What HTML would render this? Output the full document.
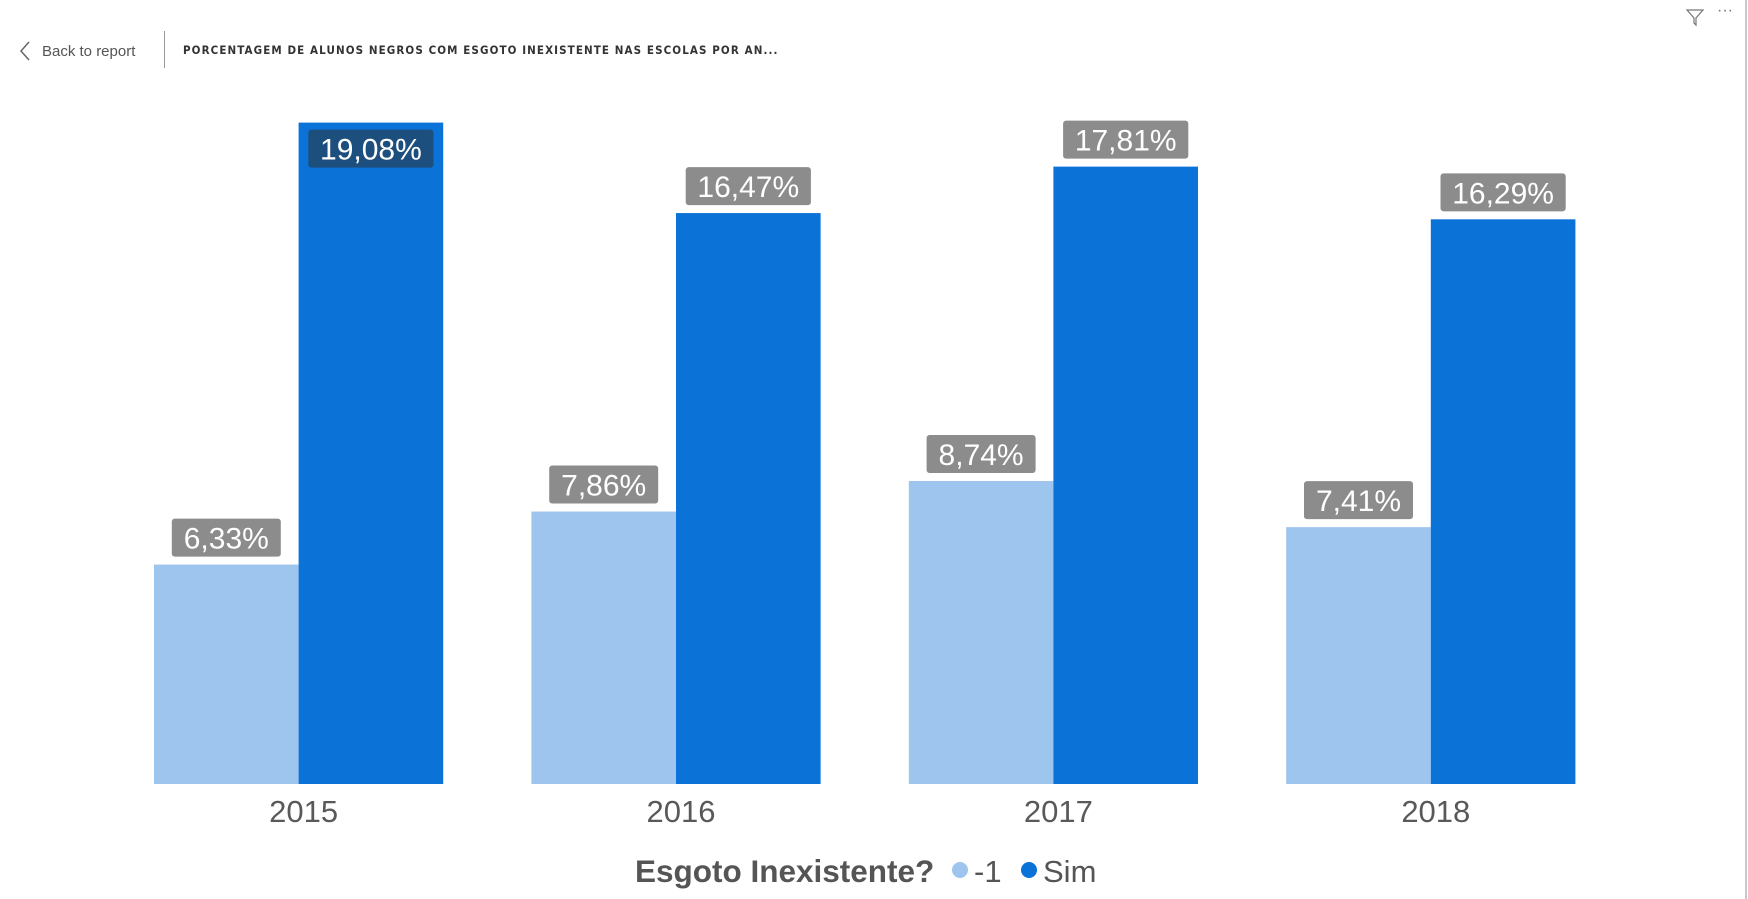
<!DOCTYPE html>
<html><head><meta charset="utf-8"><style>
body{margin:0;width:1748px;height:899px;background:#fff;position:relative;overflow:hidden;font-family:"Liberation Sans",sans-serif}
.abs{position:absolute}
</style></head><body>
<div class="abs" style="left:18px;top:40px;font-size:15px;color:#555;display:flex;align-items:center">
<svg width="14" height="22" style="margin-right:10px"><polyline points="11,2 3,11 11,20" fill="none" stroke="#666" stroke-width="1.5"/></svg>Back to report</div>
<div class="abs" style="left:164px;top:31px;width:1px;height:37px;background:#999"></div>
<div class="abs" style="left:183px;top:43px;font-size:11.5px;font-weight:bold;letter-spacing:1.1px;color:#333;font-family:'DejaVu Sans Condensed','Liberation Sans',sans-serif;white-space:nowrap">PORCENTAGEM DE ALUNOS NEGROS COM ESGOTO INEXISTENTE NAS ESCOLAS POR AN...</div>
<svg class="abs" style="left:1685px;top:7px" width="20" height="20"><path d="M2 3 H18 L11 11 V18 L9 16 V11 Z" fill="none" stroke="#777" stroke-width="1.2"/></svg>
<div class="abs" style="left:1717px;top:2px;font-size:16px;color:#777">···</div>
<div class="abs" style="left:1745px;top:0;width:2px;height:899px;background:#c8c8c8"></div>
<svg id="chart" class="abs" style="left:0;top:0" width="1740" height="899"></svg>
<script>
const categories=["2015","2016","2017","2018"];
const seriesNeg=[6.33,7.86,8.74,7.41];
const seriesSim=[19.08,16.47,17.81,16.29];
const labelsNeg=["6,33%","7,86%","8,74%","7,41%"];
const labelsSim=["19,08%","16,47%","17,81%","16,29%"];
const NS="http://www.w3.org/2000/svg";
const svg=document.getElementById('chart');
const base=784, scale=661.4/19.08, x0=154, step=377.4, bw=144.6;
const y=v=>base-v*scale;
function el(t,a){const e=document.createElementNS(NS,t);for(const k in a)e.setAttribute(k,a[k]);svg.appendChild(e);return e;}
function label(cx,top,txt,inside){
  const w=txt.length*16.2+28, h=38;
  const by=inside?top+7:top-8-h;
  const r=el('rect',{x:cx-w/2,y:by,width:w,height:h,rx:3,fill:inside?'#1d4f7e':'#8c8c8c'});
  
  
  const t=el('text',{x:cx,y:by+30,'text-anchor':'middle','font-size':30,fill:'#fff','font-family':'Liberation Sans, sans-serif'});
  t.textContent=txt;
  
  
}
categories.forEach((c,i)=>{
  const gx=x0+i*step;
  const a=el('rect',{x:gx,y:y(seriesNeg[i]),width:bw,height:base-y(seriesNeg[i]),fill:'#9dc5ed'});
  
  
  const b=el('rect',{x:gx+bw,y:y(seriesSim[i]),width:bw,height:base-y(seriesSim[i]),fill:'#0b72d7'});
  
  
  label(gx+bw/2,y(seriesNeg[i]),labelsNeg[i],false);
  const inside=y(seriesSim[i])-52<95;
  label(gx+bw*1.5,y(seriesSim[i]),labelsSim[i],inside);
  const t=el('text',{x:gx+bw+5,y:822,'text-anchor':'middle','font-size':31,fill:'#595959'});
  t.textContent=c;
  
  
});
const lt=el('text',{x:635,y:882,'font-size':31.5,'font-weight':'bold',fill:'#555'});
lt.textContent="Esgoto Inexistente?";


const c1=el('circle',{cx:960,cy:870,r:8,fill:'#9dc5ed'});


const l1=el('text',{x:974,y:882,'font-size':31,fill:'#555'});l1.textContent="-1";


const c2=el('circle',{cx:1029,cy:870,r:8,fill:'#0b72d7'});


const l2=el('text',{x:1043,y:882,'font-size':31,fill:'#555'});l2.textContent="Sim";


</script>
</body></html>
